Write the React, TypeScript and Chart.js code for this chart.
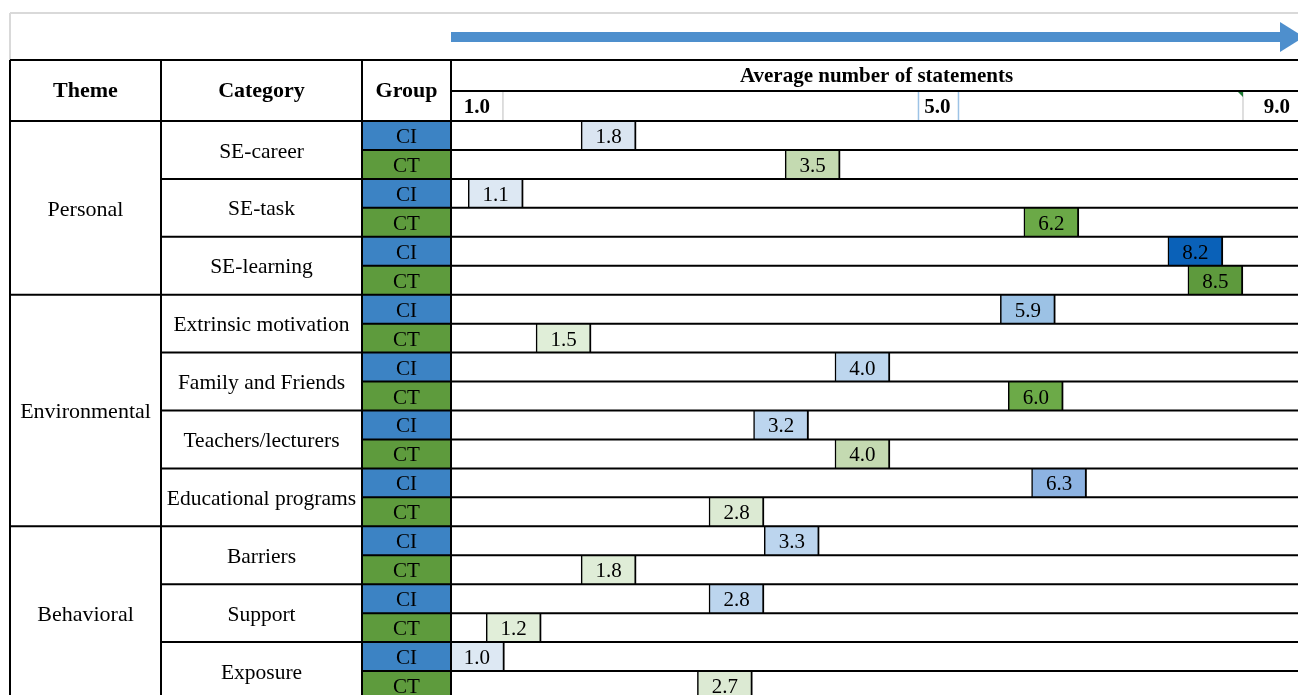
import React, { useEffect, useRef } from 'react';
import { Chart, registerables, LinearScale } from 'chart.js';

// square-root value axis (the reference's column positions grow roughly with √value)
class SqrtScale extends LinearScale {
  static id = 'sqrt';
  static defaults = {};
  getPixelForValue(value: number) {
    if (value === null || value === undefined || isNaN(value)) return NaN;
    const a = Math.sqrt(this.min);
    const b = Math.sqrt(this.max);
    return this.getPixelForDecimal((Math.sqrt(Math.max(value, 0)) - a) / (b - a));
  }
  getValueForPixel(pixel: number) {
    const a = Math.sqrt(this.min);
    const b = Math.sqrt(this.max);
    const s = a + this.getDecimalForPixel(pixel) * (b - a);
    return s * s;
  }
}

Chart.register(...registerables, SqrtScale as any);

// ---------------- data ----------------
const themes = ['Personal', 'Environmental', 'Behavioral'];
const themeCategoryCounts = [3, 4, 3];
const categories = [
  'SE-career',
  'SE-task',
  'SE-learning',
  'Extrinsic motivation',
  'Family and Friends',
  'Teachers/lecturers',
  'Educational programs',
  'Barriers',
  'Support',
  'Exposure',
];
const groups = ['CI', 'CT'];
const ciValues = [1.8, 1.1, 8.2, 5.9, 4.0, 3.2, 6.3, 3.3, 2.8, 1.0];
const ctValues = [3.5, 6.2, 8.5, 1.5, 6.0, 4.0, 2.8, 1.8, 1.2, 2.7];
const xTickValues = [1.0, 5.0, 9.0];
const xTickLabels = ['1.0', '5.0', '9.0'];
const axisTitle = 'Average number of statements';
const headers = ['Theme', 'Category', 'Group'];

// ---------------- style ----------------
const FONT = '"Liberation Serif", "Times New Roman", serif';
const HALF_SQRT = 0.0713; // half box width, in √-axis units
const X_MIN = 0.87;
const X_MAX = 9.795;
const COLS = [10, 161, 362]; // left edges of Theme / Category / Group columns
const HEADER_TOP = 60;
const HEADER_MID = 91;
const CI_CELL = '#3c83c4';
const CT_CELL = '#5e9b3d';
const ARROW = '#4e8fcd';

const ciStops: [number, string][] = [
  [1.0, '#dde8f3'],
  [1.8, '#dae5f1'],
  [2.8, '#bcd5ee'],
  [4.0, '#bdd6ee'],
  [5.9, '#9cc2e5'],
  [6.3, '#8db3e2'],
  [8.2, '#0a61b8'],
];
const ctStops: [number, string][] = [
  [1.0, '#e2efda'],
  [2.8, '#dcead3'],
  [3.5, '#c4dab1'],
  [4.0, '#c4dab1'],
  [6.0, '#6caa48'],
  [8.5, '#5e9a3d'],
];

function hexToRgb(h: string) {
  const n = parseInt(h.slice(1), 16);
  return [(n >> 16) & 255, (n >> 8) & 255, n & 255];
}
function colorFor(stops: [number, string][], v: number) {
  if (v <= stops[0][0]) return stops[0][1];
  for (let i = 1; i < stops.length; i++) {
    if (v <= stops[i][0]) {
      const [a, ca] = stops[i - 1];
      const [b, cb] = stops[i];
      const t = (v - a) / (b - a);
      const A = hexToRgb(ca);
      const B = hexToRgb(cb);
      const c = A.map((x, k) => Math.round(x + (B[k] - x) * t));
      return `rgb(${c[0]},${c[1]},${c[2]})`;
    }
  }
  return stops[stops.length - 1][1];
}

const rowLabels = categories.flatMap((c) => groups.map((g) => `${c} ${g}`));

const tablePlugin = {
  id: 'tablePlugin',
  beforeDraw(chart: any) {
    const { ctx, width, chartArea } = chart;
    const y = chart.scales.y;
    const step = y.getPixelForValue(1) - y.getPixelForValue(0);
    ctx.save();
    ctx.fillStyle = '#ffffff';
    ctx.fillRect(0, 0, width, chart.height);
    // top light frame
    ctx.strokeStyle = '#d9d9d9';
    ctx.lineWidth = 2;
    ctx.beginPath();
    ctx.moveTo(10, 13);
    ctx.lineTo(width, 13);
    ctx.moveTo(10, 13);
    ctx.lineTo(10, HEADER_TOP);
    ctx.stroke();
    // arrow
    ctx.fillStyle = ARROW;
    ctx.fillRect(chartArea.left, 32, 1282 - chartArea.left, 10);
    ctx.beginPath();
    ctx.moveTo(1280, 22);
    ctx.lineTo(1304, 37);
    ctx.lineTo(1280, 52);
    ctx.closePath();
    ctx.fill();
    // group cells
    rowLabels.forEach((_, i) => {
      const c = y.getPixelForValue(i);
      ctx.fillStyle = i % 2 === 0 ? CI_CELL : CT_CELL;
      ctx.fillRect(COLS[2], c - step / 2, chartArea.left - COLS[2], step);
    });
    ctx.restore();
  },
  afterDatasetsDraw(chart: any) {
    const { ctx, width, chartArea } = chart;
    const y = chart.scales.y;
    const x = chart.scales.x;
    const step = y.getPixelForValue(1) - y.getPixelForValue(0);
    const rowTop = (i: number) => y.getPixelForValue(i) - step / 2;
    ctx.save();

    // header thin cell edges around tick labels
    const tickPx = xTickValues.map((v) => x.getPixelForValue(v));
    ctx.lineWidth = 1.5;
    ctx.strokeStyle = '#d4d4d4';
    ctx.beginPath();
    ctx.moveTo(tickPx[0] + 26, HEADER_MID);
    ctx.lineTo(tickPx[0] + 26, chartArea.top);
    ctx.moveTo(tickPx[2] - 5, HEADER_MID);
    ctx.lineTo(tickPx[2] - 5, chartArea.top);
    ctx.stroke();
    ctx.strokeStyle = '#9dc3e6';
    ctx.beginPath();
    ctx.moveTo(tickPx[1] - 35, HEADER_MID);
    ctx.lineTo(tickPx[1] - 35, chartArea.top);
    ctx.moveTo(tickPx[1] + 5, HEADER_MID);
    ctx.lineTo(tickPx[1] + 5, chartArea.top);
    ctx.stroke();
    ctx.fillStyle = '#1e7b34';
    ctx.beginPath();
    ctx.moveTo(tickPx[2] - 11, HEADER_MID);
    ctx.lineTo(tickPx[2] - 5, HEADER_MID);
    ctx.lineTo(tickPx[2] - 5, HEADER_MID + 6);
    ctx.closePath();
    ctx.fill();

    // black grid lines
    ctx.strokeStyle = '#000000';
    ctx.lineWidth = 2;
    ctx.beginPath();
    ctx.moveTo(COLS[0], HEADER_TOP);
    ctx.lineTo(width, HEADER_TOP);
    ctx.moveTo(chartArea.left, HEADER_MID);
    ctx.lineTo(width, HEADER_MID);
    ctx.moveTo(COLS[0], chartArea.top);
    ctx.lineTo(width, chartArea.top);
    const themeStartRows = new Set<number>();
    let acc = 0;
    themeCategoryCounts.forEach((n) => {
      themeStartRows.add(acc * 2);
      acc += n;
    });
    for (let i = 1; i < rowLabels.length; i++) {
      const yy = rowTop(i);
      let sx = COLS[2];
      if (themeStartRows.has(i)) sx = COLS[0];
      else if (i % 2 === 0) sx = COLS[1];
      ctx.moveTo(sx, yy);
      ctx.lineTo(width, yy);
    }
    [...COLS, chartArea.left].forEach((cx) => {
      ctx.moveTo(cx, HEADER_TOP);
      ctx.lineTo(cx, chartArea.bottom);
    });
    ctx.stroke();

    ctx.fillStyle = '#000000';
    ctx.textAlign = 'center';
    ctx.textBaseline = 'middle';

    // headers
    ctx.font = `bold 22px ${FONT}`;
    const hdrY = (HEADER_TOP + chartArea.top) / 2 + 1;
    headers.forEach((h, k) => {
      const l = COLS[k];
      const r = k + 1 < COLS.length ? COLS[k + 1] : chartArea.left;
      ctx.fillText(h, (l + r) / 2, hdrY);
    });
    ctx.font = `bold 21px ${FONT}`;
    ctx.fillText(axisTitle, (chartArea.left + width) / 2 + 2, (HEADER_TOP + HEADER_MID) / 2 + 1);
    const tickY = (HEADER_MID + chartArea.top) / 2 + 2;
    xTickLabels.forEach((t, k) => {
      const last = k === xTickLabels.length - 1;
      ctx.textAlign = last ? 'right' : 'center';
      if (k === 0) ctx.fillText(t, tickPx[k], tickY);
      else if (last) ctx.fillText(t, width - 8, tickY);
      else ctx.fillText(t, tickPx[k] - 16, tickY);
    });
    ctx.textAlign = 'center';

    // theme + category + group texts
    ctx.font = `22px ${FONT}`;
    let catIdx = 0;
    themes.forEach((t, k) => {
      const n = themeCategoryCounts[k];
      const top = rowTop(catIdx * 2);
      const bottom = top + step * n * 2;
      ctx.fillText(t, (COLS[0] + COLS[1]) / 2, (top + bottom) / 2 + 2);
      catIdx += n;
    });
    ctx.font = `21.5px ${FONT}`;
    categories.forEach((c, k) => {
      const cy = rowTop(k * 2) + step;
      ctx.fillText(c, (COLS[1] + COLS[2]) / 2, cy + 2);
    });
    ctx.font = `21px ${FONT}`;
    rowLabels.forEach((_, i) => {
      ctx.fillText(groups[i % 2], (COLS[2] + chartArea.left) / 2, y.getPixelForValue(i) + 2);
    });

    // value labels in boxes
    chart.data.datasets.forEach((ds: any, di: number) => {
      const meta = chart.getDatasetMeta(di);
      meta.data.forEach((el: any, j: number) => {
        const p = el.getProps(['x', 'base', 'y'], true);
        const v = ds.data[j].v;
        ctx.fillText(v.toFixed(1), (p.x + p.base) / 2, p.y + 2);
      });
    });
    ctx.restore();
  },
};

export default function App() {
  const ref = useRef<HTMLCanvasElement | null>(null);
  useEffect(() => {
    if (!ref.current) return;
    const span = (v: number) => {
      const s = Math.sqrt(v);
      return [(s - HALF_SQRT) ** 2, (s + HALF_SQRT) ** 2];
    };
    const mk = (vals: number[], g: number) =>
      vals.map((v, k) => ({ y: rowLabels[k * 2 + g], x: span(v), v }));
    const chart = new Chart(ref.current, {
      type: 'bar',
      data: {
        labels: rowLabels,
        datasets: [
          {
            label: 'CI',
            data: mk(ciValues, 0) as any,
            backgroundColor: (c: any) => colorFor(ciStops, c.raw ? c.raw.v : 1),
          },
          {
            label: 'CT',
            data: mk(ctValues, 1) as any,
            backgroundColor: (c: any) => colorFor(ctStops, c.raw ? c.raw.v : 1),
          },
        ],
      },
      options: {
        indexAxis: 'y',
        animation: false,
        responsive: false,
        devicePixelRatio: 1,
        layout: { padding: { left: 451, top: 121, right: 0, bottom: 0 } },
        datasets: {
          bar: {
            categoryPercentage: 1,
            barPercentage: 1,
            borderSkipped: false,
            borderColor: '#000000',
            borderWidth: { left: 1.5, right: 2, top: 0, bottom: 0 },
          },
        },
        scales: {
          x: { type: 'sqrt', min: X_MIN, max: X_MAX, display: false },
          y: { type: 'category', display: false, stacked: true, offset: true },
        },
        plugins: { legend: { display: false }, tooltip: { enabled: false } },
      } as any,
      plugins: [tablePlugin],
    });
    return () => chart.destroy();
  }, []);
  return (
    <div
      style={{
        position: 'absolute',
        left: 0,
        top: 0,
        width: 1298,
        height: 695,
        overflow: 'hidden',
        background: '#fff',
      }}
    >
      <canvas ref={ref} width={1298} height={700} style={{ display: 'block', width: 1298, height: 700 }} />
    </div>
  );
}
